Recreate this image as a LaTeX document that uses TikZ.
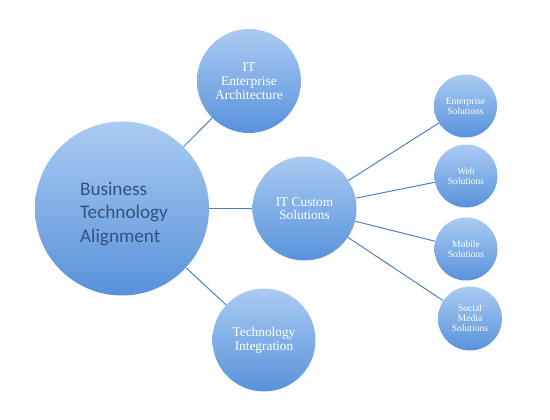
\documentclass[tikz,border=0pt]{standalone}
\usepackage{fontspec}
\setmainfont{Liberation Serif}
\newfontfamily\bigfont{Carlito}
\definecolor{topblue}{HTML}{ABCBF2}
\definecolor{botblue}{HTML}{5892DB}
\definecolor{linkblue}{HTML}{4F81BD}
\definecolor{darktext}{HTML}{34527F}
\begin{document}
\begin{tikzpicture}[x=0.75pt,y=-0.75pt,
  bubble/.style={circle, inner sep=0pt, shading=axis, top color=topblue, bottom color=botblue, align=center, text=white},
  link/.style={draw=linkblue, line width=0.75pt}]
\useasboundingbox (0,0) rectangle (550,420);
\node[bubble, minimum size=174*0.75pt] (bta) at (122,208.5) {};
\node[text=darktext, align=left, inner sep=0pt, font=\bigfont\fontsize{14.4pt}{17.5pt}\selectfont] (btatext) at (124,214) {Business\\Technology\\Alignment};
\node[bubble, minimum size=104*0.75pt, font=\fontsize{10.2pt}{10.5pt}\selectfont] (ea) at (249,81) {IT\\Enterprise\\Architecture};
\node[bubble, minimum size=104*0.75pt, font=\fontsize{10pt}{10pt}\selectfont] (cs) at (304.5,208.5) {IT Custom\\Solutions};
\node[bubble, minimum size=103*0.75pt, font=\fontsize{10pt}{10.5pt}\selectfont] (ti) at (264,340) {Technology\\Integration};
\node[bubble, minimum size=63*0.75pt, font=\fontsize{7.2pt}{7.6pt}\selectfont] (es) at (465.5,106) {Enterprise\\Solutions};
\node[bubble, minimum size=63*0.75pt, font=\fontsize{7.2pt}{7.6pt}\selectfont] (ws) at (466,176) {Web\\Solutions};
\node[bubble, minimum size=63*0.75pt, font=\fontsize{7.2pt}{7.6pt}\selectfont] (ms) at (466,249) {Mobile\\Solutions};
\node[bubble, minimum size=64*0.75pt, font=\fontsize{7.2pt}{7.6pt}\selectfont] (ss) at (470,318.5) {Social\\Media\\Solutions};
\draw[link] (bta) -- (ea);
\draw[link] (bta) -- (cs);
\draw[link] (bta) -- (ti);
\draw[link] (cs) -- (es);
\draw[link] (cs) -- (ws);
\draw[link] (cs) -- (ms);
\draw[link] (cs) -- (ss);
\end{tikzpicture}
\end{document}
